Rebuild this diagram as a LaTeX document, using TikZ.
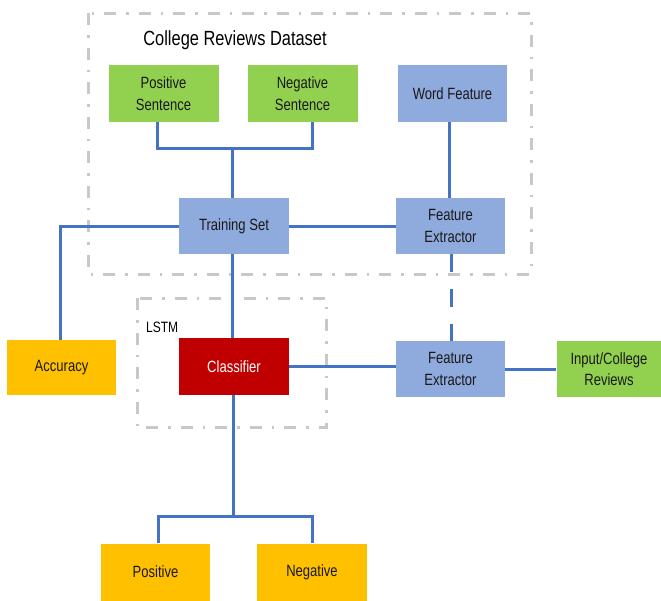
\documentclass[tikz,border=0pt]{standalone}
\usepackage{fontspec}
\setmainfont{Liberation Sans}[FakeStretch=0.8]
\definecolor{gfill}{HTML}{92D050}
\definecolor{bfill}{HTML}{8FAADC}
\definecolor{ofill}{HTML}{FFC000}
\definecolor{rfill}{HTML}{C00000}
\definecolor{lblue}{HTML}{4472C4}
\definecolor{dgray}{HTML}{C8C8C8}
\tikzset{
  box/.style={inner sep=0pt, align=center, font=\fontsize{16.3}{21.5}\selectfont, text=black!90},
  gbox/.style={box, fill=gfill},
  bbox/.style={box, fill=bfill},
  obox/.style={box, fill=ofill},
  rbox/.style={box, fill=rfill, text=white},
  conn/.style={draw=lblue, line width=3pt},
  grayframe/.style={draw=dgray, line width=3pt, dash pattern=on 12pt off 10pt on 2.5pt off 10pt},
}
\begin{document}
\begin{tikzpicture}[x=1pt,y=-1pt]
\useasboundingbox (0,0) rectangle (661,600);
% frames
\draw[grayframe] (88,13) rectangle (531,274);
\draw[grayframe] (137,298) rectangle (326,427);
\node[inner sep=0pt, font=\fontsize{20.5}{24}\selectfont] (title) at (235,40) {College Reviews Dataset};
\node[inner sep=0pt, font=\fontsize{15}{18}\selectfont, anchor=west] (lstm) at (146,327) {LSTM};
% nodes
\node[gbox, minimum width=110pt, minimum height=57pt] (pos) at (163.5,93.5) {Positive\\Sentence};
\node[gbox, minimum width=110pt, minimum height=57pt] (neg) at (302.5,93.5) {Negative\\Sentence};
\node[bbox, minimum width=109pt, minimum height=57pt] (word) at (452.5,93.5) {Word Feature};
\node[bbox, minimum width=110pt, minimum height=56pt] (ts) at (234,226) {Training Set};
\node[bbox, minimum width=109pt, minimum height=56pt] (fe1) at (450.5,226) {Feature\\Extractor};
\node[obox, minimum width=109pt, minimum height=55pt] (acc) at (61.5,367.5) {Accuracy};
\node[rbox, minimum width=110pt, minimum height=57pt] (cls) at (234,366.5) {Classifier};
\node[bbox, minimum width=109pt, minimum height=56pt] (fe2) at (450.5,369) {Feature\\Extractor};
\node[gbox, minimum width=105pt, minimum height=56pt] (inp) at (609,369) {Input/College\\Reviews};
\node[obox, minimum width=109pt, minimum height=57pt] (posout) at (155.5,572) {Positive};
\node[obox, minimum width=110pt, minimum height=57pt] (negout) at (312,572) {Negative};
% helper coordinates
\coordinate (xp) at (157,0);
\coordinate (xn) at (312,0);
\coordinate (jt) at (232,148);
\coordinate (xw) at (449,0);
\coordinate (xa) at (60,0);
\coordinate (xf) at (451,0);
\coordinate (jb) at (233,516);
\coordinate (xpo) at (158,0);
\coordinate (xno) at (312,0);
% connectors
\draw[conn] (pos.south -| xp) |- (jt) -| (neg.south -| xn);
\draw[conn] (jt) -- (ts.north -| jt);
\draw[conn] (word.south -| xw) -- (fe1.north -| xw);
\draw[conn] (ts.east) -- (fe1.west);
\draw[conn] (ts.west) -| (acc.north -| xa);
\draw[conn] (ts.south -| jt) -- (cls.north -| jt);
\draw[conn, dash pattern=on 18pt off 17pt] (fe1.south -| xf) -- (fe2.north -| xf);
\draw[conn] (cls.east) -- (cls.east -| fe2.west);
\draw[conn] (fe2.east) -- (fe2.east -| inp.west);
\draw[conn] (cls.south -| jb) -- (jb);
\draw[conn] (posout.north -| xpo) |- (jb) -| (negout.north -| xno);
\end{tikzpicture}
\end{document}
